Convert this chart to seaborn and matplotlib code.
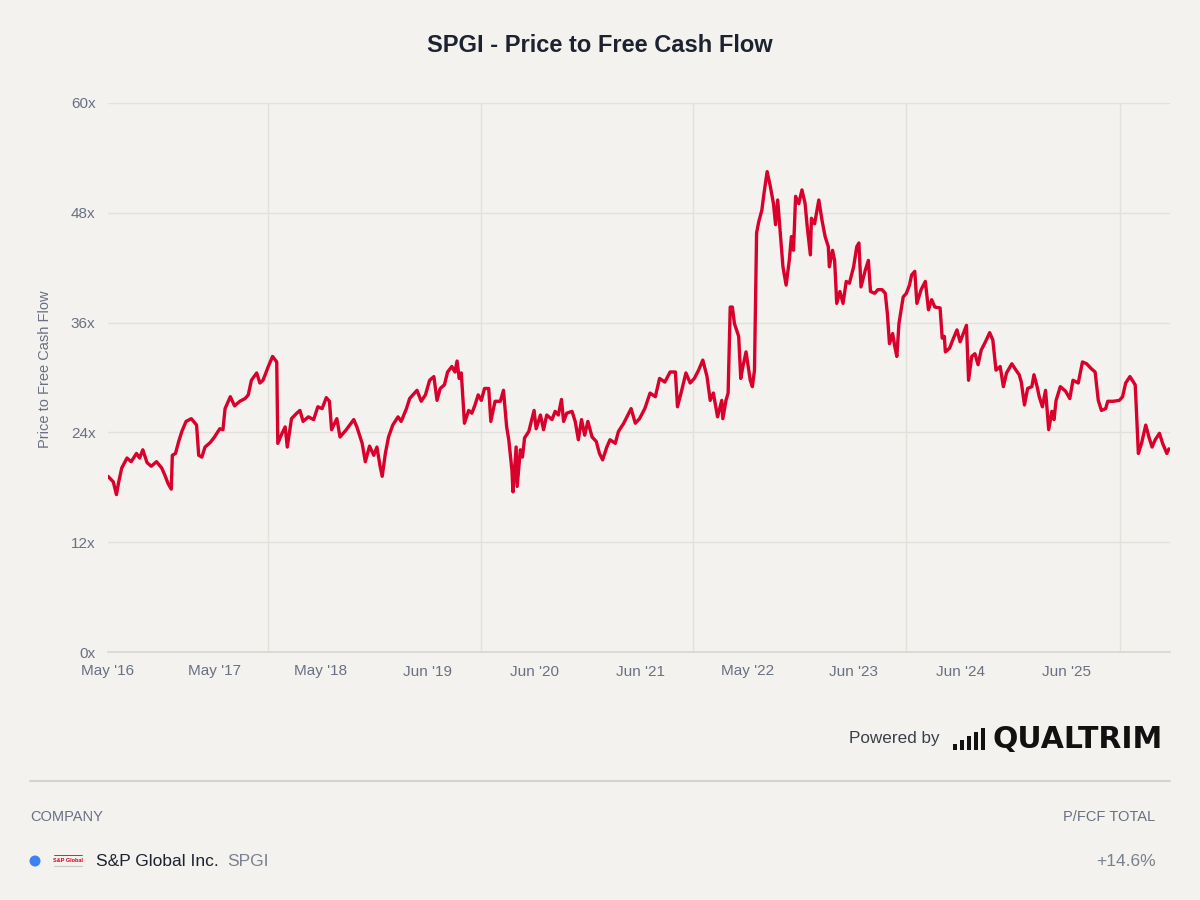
import seaborn as sns
import matplotlib.pyplot as plt
from matplotlib.patches import Rectangle, Ellipse
from matplotlib.lines import Line2D
import pandas as pd

# P/FCF history (decimal year, multiple)
years = [
    2016.33, 2016.38, 2016.41, 2016.43, 2016.46, 2016.51, 2016.55, 2016.60, 2016.63, 2016.66,
    2016.70, 2016.74, 2016.79, 2016.84, 2016.87, 2016.90, 2016.93, 2016.94, 2016.97, 2017.00,
    2017.03, 2017.07, 2017.12, 2017.17, 2017.19, 2017.22, 2017.25, 2017.30, 2017.34, 2017.39,
    2017.42, 2017.44, 2017.49, 2017.53, 2017.58, 2017.63, 2017.66, 2017.69, 2017.74, 2017.77,
    2017.80, 2017.85, 2017.89, 2017.93, 2017.94, 2017.98, 2018.01, 2018.03, 2018.07, 2018.12,
    2018.15, 2018.18, 2018.23, 2018.28, 2018.32, 2018.36, 2018.40, 2018.43, 2018.45, 2018.50,
    2018.53, 2018.59, 2018.66, 2018.69, 2018.74, 2018.77, 2018.81, 2018.85, 2018.88, 2018.91,
    2018.93, 2018.96, 2018.99, 2019.03, 2019.08, 2019.11, 2019.16, 2019.19, 2019.26, 2019.30,
    2019.34, 2019.38, 2019.42, 2019.45, 2019.48, 2019.52, 2019.55, 2019.59, 2019.62, 2019.64,
    2019.66, 2019.68, 2019.71, 2019.75, 2019.78, 2019.81, 2019.84, 2019.87, 2019.90, 2019.94,
    2019.96, 2020.00, 2020.05, 2020.08, 2020.11, 2020.13, 2020.16, 2020.17, 2020.20, 2020.21,
    2020.24, 2020.26, 2020.28, 2020.32, 2020.37, 2020.39, 2020.43, 2020.46, 2020.49, 2020.54,
    2020.57, 2020.60, 2020.63, 2020.65, 2020.68, 2020.73, 2020.76, 2020.79, 2020.82, 2020.85,
    2020.88, 2020.92, 2020.96, 2020.99, 2021.02, 2021.06, 2021.09, 2021.14, 2021.17, 2021.22,
    2021.26, 2021.29, 2021.33, 2021.37, 2021.42, 2021.47, 2021.52, 2021.56, 2021.61, 2021.66,
    2021.71, 2021.73, 2021.77, 2021.81, 2021.85, 2021.89, 2021.93, 2021.97, 2022.01, 2022.04,
    2022.07, 2022.11, 2022.15, 2022.16, 2022.19, 2022.21, 2022.23, 2022.25, 2022.27, 2022.31,
    2022.33, 2022.35, 2022.38, 2022.42, 2022.44, 2022.46, 2022.48, 2022.50, 2022.53, 2022.55,
    2022.58, 2022.61, 2022.64, 2022.66, 2022.68, 2022.71, 2022.73, 2022.76, 2022.79, 2022.81,
    2022.83, 2022.85, 2022.88, 2022.91, 2022.94, 2022.96, 2022.99, 2023.00, 2023.03, 2023.07,
    2023.10, 2023.13, 2023.16, 2023.17, 2023.20, 2023.22, 2023.24, 2023.27, 2023.30, 2023.33,
    2023.36, 2023.40, 2023.43, 2023.45, 2023.47, 2023.51, 2023.54, 2023.56, 2023.60, 2023.63,
    2023.67, 2023.70, 2023.72, 2023.74, 2023.77, 2023.79, 2023.81, 2023.83, 2023.87, 2023.90,
    2023.93, 2023.95, 2023.98, 2024.00, 2024.04, 2024.08, 2024.11, 2024.14, 2024.17, 2024.22,
    2024.24, 2024.26, 2024.27, 2024.31, 2024.34, 2024.38, 2024.41, 2024.44, 2024.47, 2024.49,
    2024.52, 2024.55, 2024.58, 2024.61, 2024.65, 2024.69, 2024.72, 2024.75, 2024.79, 2024.82,
    2024.85, 2024.90, 2024.94, 2024.97, 2024.99, 2025.02, 2025.05, 2025.09, 2025.11, 2025.14,
    2025.16, 2025.19, 2025.22, 2025.25, 2025.28, 2025.30, 2025.32, 2025.36, 2025.41, 2025.45,
    2025.48, 2025.53, 2025.57, 2025.61, 2025.65, 2025.69, 2025.72, 2025.75, 2025.79, 2025.81,
    2025.86, 2025.92, 2025.95, 2025.98, 2026.02, 2026.07, 2026.08, 2026.10, 2026.13, 2026.17,
    2026.20, 2026.23, 2026.26, 2026.30, 2026.33, 2026.37, 2026.39,
]
pfcf = [
    19.2, 18.6, 17.2, 18.5, 20.1, 21.2, 20.8, 21.7, 21.2, 22.1,
    20.7, 20.3, 20.8, 20.1, 19.3, 18.4, 17.8, 21.5, 21.7, 23.0,
    24.1, 25.2, 25.5, 24.8, 21.5, 21.3, 22.4, 22.9, 23.5, 24.4,
    24.3, 26.6, 27.9, 26.9, 27.4, 27.7, 28.1, 29.7, 30.5, 29.4,
    29.7, 31.2, 32.3, 31.7, 22.8, 23.9, 24.6, 22.4, 25.5, 26.1,
    26.4, 25.2, 25.7, 25.4, 26.8, 26.6, 27.8, 27.4, 24.3, 25.5,
    23.5, 24.3, 25.4, 24.6, 22.8, 20.8, 22.5, 21.5, 22.4, 20.3,
    19.2, 21.7, 23.5, 24.8, 25.7, 25.2, 26.6, 27.7, 28.6, 27.4,
    28.1, 29.7, 30.1, 27.5, 28.8, 29.2, 30.6, 31.2, 30.6, 31.8,
    29.9, 30.5, 25.0, 26.4, 26.1, 27.0, 28.1, 27.5, 28.8, 28.8,
    25.2, 27.4, 27.4, 28.6, 24.6, 23.2, 19.9, 17.5, 22.4, 18.1,
    22.1, 21.3, 23.4, 24.1, 26.4, 24.4, 25.9, 24.3, 25.9, 25.4,
    26.3, 25.9, 27.6, 25.2, 26.1, 26.3, 25.2, 23.2, 25.4, 23.7,
    25.2, 23.5, 23.0, 21.7, 21.0, 22.4, 23.2, 22.8, 24.1, 25.0,
    25.9, 26.6, 25.0, 25.5, 26.6, 28.3, 27.9, 29.9, 29.5, 30.6,
    30.6, 26.8, 28.6, 30.5, 29.4, 29.9, 30.8, 31.9, 30.1, 27.5,
    28.3, 25.7, 27.5, 25.5, 27.5, 28.3, 37.7, 37.7, 35.9, 34.5,
    29.9, 31.2, 32.8, 29.7, 29.0, 30.8, 45.8, 47.0, 48.3, 50.1,
    52.5, 50.9, 49.0, 46.7, 49.4, 45.0, 42.1, 40.1, 42.8, 45.4,
    43.9, 49.8, 49.0, 50.5, 49.0, 46.5, 43.4, 47.4, 46.8, 49.4,
    47.2, 45.4, 44.3, 42.1, 43.9, 42.8, 38.1, 39.4, 38.1, 40.5,
    40.3, 42.1, 44.3, 44.7, 39.9, 41.7, 42.8, 39.4, 39.2, 39.6,
    39.6, 39.2, 37.0, 33.7, 34.8, 33.4, 32.3, 35.9, 38.8, 39.2,
    40.1, 41.2, 41.6, 38.1, 39.6, 40.5, 37.4, 38.5, 37.7, 37.6,
    34.3, 34.5, 32.8, 33.2, 34.1, 35.2, 33.9, 34.8, 35.7, 29.7,
    32.3, 32.6, 31.4, 33.0, 33.9, 34.9, 34.1, 30.8, 31.2, 29.0,
    30.5, 31.5, 30.8, 30.3, 29.5, 27.0, 28.8, 29.0, 30.3, 29.0,
    27.9, 26.8, 28.6, 24.3, 26.3, 25.4, 27.5, 29.0, 28.5, 27.7,
    29.7, 29.4, 31.7, 31.5, 31.0, 30.6, 27.5, 26.4, 26.6, 27.4,
    27.4, 27.5, 27.9, 29.4, 30.1, 29.2, 26.8, 21.7, 22.8, 24.8,
    23.5, 22.4, 23.2, 23.9, 22.8, 21.7, 22.2,
]

tick_pos = [2016.33, 2017.34, 2018.35, 2019.36, 2020.37, 2021.38, 2022.39, 2023.40, 2024.41, 2025.42]
tick_labels = ["May '16", "May '17", "May '18", "Jun '19", "Jun '20",
               "Jun '21", "May '22", "Jun '23", "Jun '24", "Jun '25"]
vgrid_pos = [2017.85, 2019.87, 2021.88, 2023.90, 2025.93]
y_ticks = [0, 12, 24, 36, 48, 60]

df = pd.DataFrame({'year': years, 'pfcf': pfcf})

bg = '#f3f2ee'
grid_c = '#e3e1dc'
label_c = '#687083'
dark = '#1c2230'
line_c = '#d9002c'

sns.set_theme(style='white')
plt.rcParams['font.family'] = ['Liberation Sans', 'DejaVu Sans']

fig = plt.figure(figsize=(12, 9), dpi=100, facecolor=bg)
ax = fig.add_axes([108 / 1200, 1 - 652 / 900, 1062 / 1200, 549 / 900])
ax.set_facecolor(bg)

sns.lineplot(data=df, x='year', y='pfcf', ax=ax, color=line_c, linewidth=2.4)

ax.set_xlim(2016.33, 2026.40)
ax.set_ylim(0, 60)
ax.set_yticks(y_ticks)
ax.set_yticklabels([f'{v}x' for v in y_ticks])
ax.set_xticks(tick_pos)
ax.set_xticklabels(tick_labels)
ax.set_xticks(vgrid_pos, minor=True)
ax.tick_params(axis='both', which='both', length=0, labelsize=11, labelcolor=label_c)
ax.tick_params(axis='y', pad=9)
ax.tick_params(axis='x', pad=9)
ax.grid(axis='y', which='major', color=grid_c, linewidth=1)
ax.grid(axis='x', which='minor', color=grid_c, linewidth=1)
ax.grid(axis='x', which='major', visible=False)
ax.set_axisbelow(True)
for s in ['top', 'right', 'left']:
    ax.spines[s].set_visible(False)
ax.spines['bottom'].set_color('#d8d6d1')
ax.spines['bottom'].set_linewidth(1.2)

ax.set_xlabel('')
ax.set_ylabel('Price to Free Cash Flow', fontsize=10.5, color=label_c)
ax.yaxis.set_label_coords(-0.053, 0.515)

fig.text(0.5, 1 - 46 / 900, 'SPGI - Price to Free Cash Flow', ha='center', va='center',
         fontsize=17, fontweight='bold', color=dark)

# footer: powered by + logo
fig.text(940 / 1200, 1 - 739 / 900, 'Powered by', ha='right', va='center',
         fontsize=12.3, color='#3a3f4a')
bar_x = [953, 960, 967, 974, 981]
bar_h = [6, 10, 14, 18, 22]
for bx, bh in zip(bar_x, bar_h):
    fig.add_artist(Rectangle((bx / 1200, 1 - 750 / 900), 4.2 / 1200, bh / 900,
                             transform=fig.transFigure, color='#111111', lw=0))
fig.text(992 / 1200, 1 - 739 / 900, 'QUALTRIM', ha='left', va='center',
         fontsize=21.5, fontweight='heavy', color='#111111', family='DejaVu Sans')

# separator and company table
fig.add_artist(Line2D([30 / 1200, 1170 / 1200], [1 - 781 / 900] * 2,
                      transform=fig.transFigure, color='#d6d4cf', lw=1.5))
fig.text(30 / 1200, 1 - 817 / 900, 'COMPANY', ha='left', va='center', fontsize=10.5, color=label_c)
fig.text(1155 / 1200, 1 - 817 / 900, 'P/FCF TOTAL', ha='right', va='center', fontsize=10.5, color=label_c)

fig.add_artist(Ellipse((35 / 1200, 1 - 861 / 900), 11 / 1200, 11 / 900, transform=fig.transFigure,
                       color='#3b82f6', lw=0))
fig.text(68 / 1200, 1 - 860 / 900, 'S&P Global', ha='center', va='center', fontsize=4,
         fontweight='bold', color='#d0021b')
fig.add_artist(Line2D([54 / 1200, 82 / 1200], [1 - 855 / 900] * 2,
                      transform=fig.transFigure, color='#d0021b', lw=0.6))
fig.add_artist(Line2D([54 / 1200, 82 / 1200], [1 - 866 / 900] * 2,
                      transform=fig.transFigure, color='#c9c9c9', lw=0.8))
fig.text(96 / 1200, 1 - 861 / 900, 'S&P Global Inc.', ha='left', va='center', fontsize=12.5, color=dark)
fig.text(227 / 1200, 1 - 861 / 900, 'SPGI', ha='left', va='center', fontsize=12.5, color='#7a8090')
fig.text(1156 / 1200, 1 - 861 / 900, '+14.6%', ha='right', va='center', fontsize=12.5, color='#7a8090')

fig.savefig('out.png', dpi=100, facecolor=bg)
